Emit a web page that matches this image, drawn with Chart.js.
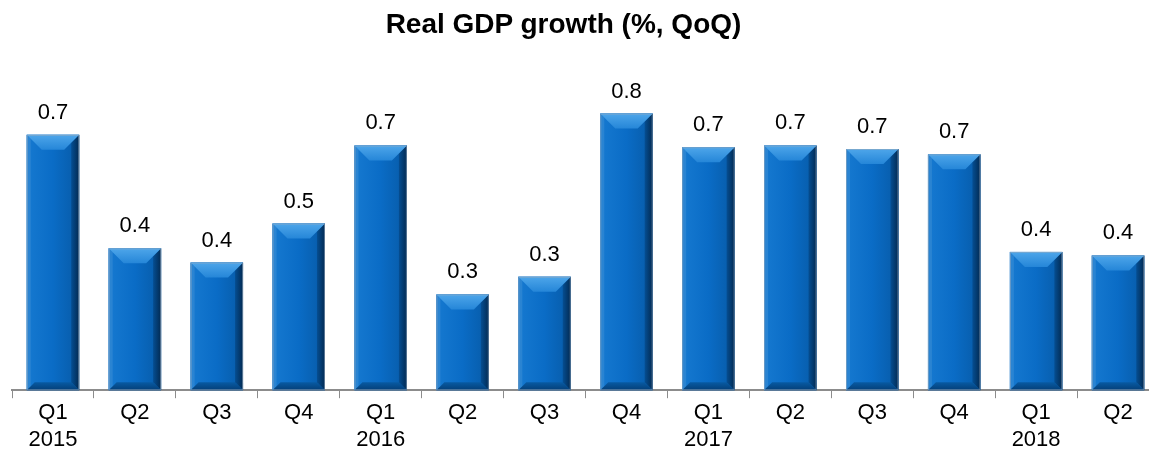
<!DOCTYPE html>
<html>
<head>
<meta charset="utf-8">
<script src="https://cdn.jsdelivr.net/npm/chart.js@4/dist/chart.umd.min.js"></script>
<style>
  html, body { margin: 0; padding: 0; background: #fff; overflow: hidden; }
  #wrap { position: relative; width: 1160px; height: 455px; }
  #title {
    position: absolute; top: 8px; left: 0; width: 1127px; text-align: center;
    font: bold 28px "Liberation Sans", Arial, sans-serif; color: #000;
  }
</style>
</head>
<body>
<div id="wrap">
  <div id="title">Real GDP growth (%, QoQ)</div>
  <canvas id="gdpChart" width="1160" height="455"></canvas>
</div>
<script>
// Chart data
const quarters = ['Q1', 'Q2', 'Q3', 'Q4', 'Q1', 'Q2', 'Q3', 'Q4', 'Q1', 'Q2', 'Q3', 'Q4', 'Q1', 'Q2'];
const years = ['2015', '', '', '', '2016', '', '', '', '2017', '', '', '', '2018', ''];
const growth = [0.72, 0.40, 0.36, 0.47, 0.69, 0.27, 0.32, 0.78, 0.685, 0.69, 0.68, 0.665, 0.39, 0.38];

const labels = quarters.map((q, i) => years[i] ? [q, years[i]] : q);

// Bevel look + value labels on top of each bar
const bevelPlugin = {
    id: 'bevel',
    afterDatasetsDraw(chart) {
        const ctx = chart.ctx;
        const meta = chart.getDatasetMeta(0);
        meta.data.forEach((bar, i) => {
            const l = bar.x - bar.width / 2;
            const r = bar.x + bar.width / 2;
            const t = bar.y;
            const b = bar.base;
            const bv = 15;   // top bevel
            const sr = 8;    // right shade
            const sl = 4;    // left strip
            const sb = 8;    // bottom shade

            ctx.save();
            // face
            let g = ctx.createLinearGradient(l, 0, r, 0);
            g.addColorStop(0, '#1679d0');
            g.addColorStop(0.5, '#0a6cc6');
            g.addColorStop(1, '#075aa6');
            ctx.fillStyle = g;
            ctx.fillRect(l, t, r - l, b - t);

            // left strip
            ctx.fillStyle = '#2a84d2';
            ctx.beginPath();
            ctx.moveTo(l, t); ctx.lineTo(l + sl, t + sl); ctx.lineTo(l + sl, b - sl); ctx.lineTo(l, b);
            ctx.closePath(); ctx.fill();

            // right shade
            g = ctx.createLinearGradient(r - sr, 0, r, 0);
            g.addColorStop(0, '#054e92');
            g.addColorStop(1, '#022a52');
            ctx.fillStyle = g;
            ctx.beginPath();
            ctx.moveTo(r, t); ctx.lineTo(r, b); ctx.lineTo(r - sr, b - sr); ctx.lineTo(r - sr, t + sr);
            ctx.closePath(); ctx.fill();

            // bottom shade
            g = ctx.createLinearGradient(0, b - sb, 0, b);
            g.addColorStop(0, '#085aa3');
            g.addColorStop(1, '#043f78');
            ctx.fillStyle = g;
            ctx.beginPath();
            ctx.moveTo(l, b); ctx.lineTo(r, b); ctx.lineTo(r - sb, b - sb); ctx.lineTo(l + sb, b - sb);
            ctx.closePath(); ctx.fill();

            // top bevel
            g = ctx.createLinearGradient(0, t, 0, t + bv);
            g.addColorStop(0, '#4ea6ea');
            g.addColorStop(1, '#2586d8');
            ctx.fillStyle = g;
            ctx.beginPath();
            ctx.moveTo(l, t); ctx.lineTo(r, t); ctx.lineTo(r - bv, t + bv); ctx.lineTo(l + bv, t + bv);
            ctx.closePath(); ctx.fill();

            // thin outline
            ctx.strokeStyle = 'rgba(150,170,190,0.6)';
            ctx.lineWidth = 1;
            ctx.strokeRect(l + 0.5, t + 0.5, r - l - 1, b - t - 1);

            // value label
            ctx.fillStyle = '#000';
            ctx.font = '22px "Liberation Sans", Arial, sans-serif';
            ctx.textAlign = 'center';
            ctx.textBaseline = 'alphabetic';
            ctx.fillText(growth[i].toFixed(1), bar.x, t - 16);
            ctx.restore();
        });
    }
};

const ctx = document.getElementById('gdpChart').getContext('2d');
new Chart(ctx, {
    type: 'bar',
    data: {
        labels: labels,
        datasets: [{
            data: growth,
            backgroundColor: '#0a6cc6',
            borderWidth: 0,
            barPercentage: 0.64,
            categoryPercentage: 1.0
        }]
    },
    options: {
        responsive: false,
        animation: false,
        layout: { padding: { left: 12, right: 1, top: 71, bottom: 0 } },
        plugins: {
            legend: { display: false },
            title: { display: false },
            tooltip: { enabled: false }
        },
        scales: {
            x: {
                grid: {
                    display: true,
                    offset: true,
                    drawOnChartArea: false,
                    drawTicks: true,
                    tickLength: 8,
                    color: '#8c8c8c'
                },
                border: { display: true, color: '#8c8c8c', width: 2 },
                ticks: {
                    color: '#000',
                    padding: 2,
                    maxRotation: 0,
                    autoSkip: false,
                    font: { family: '"Liberation Sans", Arial, sans-serif', size: 22, lineHeight: 1.2 }
                }
            },
            y: {
                display: false,
                min: 0,
                max: 0.9
            }
        }
    },
    plugins: [bevelPlugin]
});
</script>
</body>
</html>
